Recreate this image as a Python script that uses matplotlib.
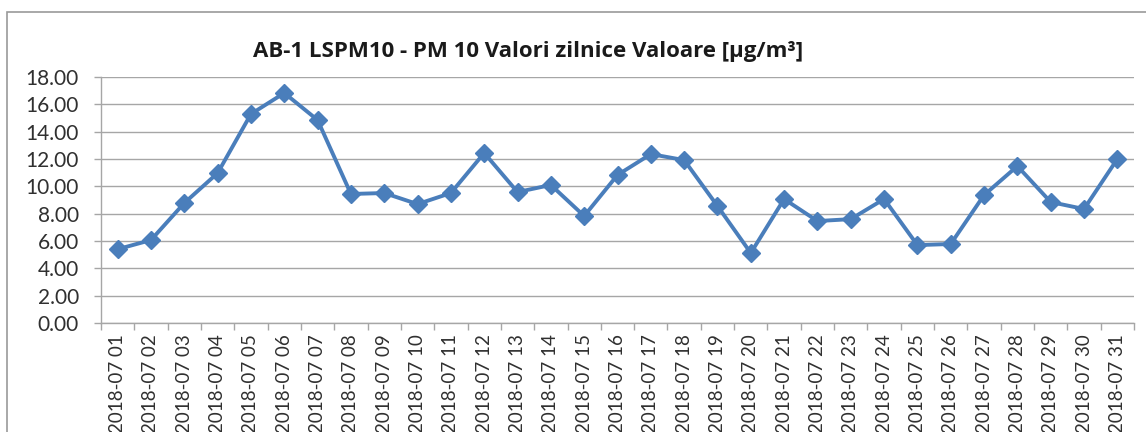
import matplotlib
matplotlib.use("Agg")
import matplotlib.pyplot as plt
from matplotlib.patches import Rectangle
from matplotlib.ticker import FixedLocator, NullFormatter

dates = [f"2018-07 {d:02d}" for d in range(1, 32)]
values = [5.40, 6.07, 8.78, 10.97, 15.29, 16.83, 14.85, 9.44, 9.51, 8.70,
          9.51, 12.44, 9.58, 10.10, 7.83, 10.83, 12.36, 11.92, 8.56, 5.12,
          9.07, 7.46, 7.60, 9.07, 5.70, 5.78, 9.36, 11.48, 8.85, 8.34, 12.00]
yticks = [0, 2, 4, 6, 8, 10, 12, 14, 16, 18]
title = "AB-1 LSPM10 - PM 10 Valori zilnice Valoare [µg/m³]"

plt.rcParams['font.family'] = ['Lato', 'DejaVu Sans']

W, H = 1146, 432
fig = plt.figure(figsize=(W / 100, H / 100), dpi=100)
fig.patch.set_facecolor('white')

# outer chart frame
fig.patches.append(Rectangle((7 / W, -0.1), 1.2, 1 - 12 / H + 0.1,
                             transform=fig.transFigure, fill=False,
                             edgecolor='#9a9a9a', linewidth=1.2))

ax = fig.add_axes([101 / W, 1 - 323 / H, (1134 - 101) / W, (323 - 77) / H])
x = list(range(len(dates)))
ax.plot(x, values, color='#4a7ebb', linewidth=2.8, marker='D',
        markersize=9, markerfacecolor='#4a7ebb', markeredgecolor='#4a7ebb')

ax.set_xlim(-0.5, len(dates) - 0.5)
ax.set_ylim(0, 18)
ax.set_yticks(yticks)
ax.set_yticklabels([f"{v:.2f}" for v in yticks])
ax.yaxis.grid(True, color='#a6a6a6', linewidth=1.0)
ax.set_axisbelow(True)

ax.set_xticks(x)
ax.set_xticklabels(dates, rotation=90)
ax.xaxis.set_minor_locator(FixedLocator([i - 0.5 for i in range(len(dates) + 1)]))
ax.xaxis.set_minor_formatter(NullFormatter())
ax.tick_params(axis='x', which='major', length=0, pad=8, labelsize=13.5,
               labelcolor='#303030')
ax.tick_params(axis='x', which='minor', length=5, color='#a6a6a6', width=1)
ax.tick_params(axis='y', length=5, color='#a6a6a6', width=1, labelsize=15,
               labelcolor='#303030', pad=11)

for s in ['top', 'right']:
    ax.spines[s].set_visible(False)
for s in ['left', 'bottom']:
    ax.spines[s].set_color('#a6a6a6')
    ax.spines[s].set_linewidth(1.0)

fig.text(528 / W, 1 - 52 / H, title, ha='center', va='center',
         fontsize=16, fontweight='bold', color='#1a1a1a',
         family=['Open Sans', 'DejaVu Sans'])

fig.savefig('out.png', dpi=100)
